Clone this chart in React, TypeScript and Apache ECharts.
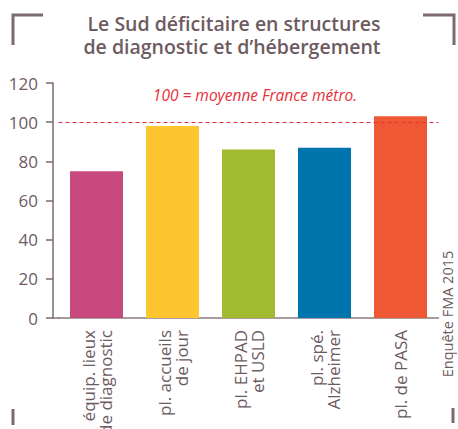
import React, { useEffect, useRef } from "react";
import * as echarts from "echarts";

const categories = [
  "équip. lieux\nde diagnostic",
  "pl. accueils\nde jour",
  "pl. EHPAD\net USLD",
  "pl. spé.\nAlzheimer",
  "pl. de PASA",
];
const values = [75, 98, 86, 87, 103];
const barColors = ["#c8497d", "#fdc52f", "#a1ba2f", "#0074ad", "#ef5835"];
const referenceValue = 100;
const titleLines = ["Le Sud déficitaire en structures", "de diagnostic et d’hébergement"];
const referenceNote = "100 = moyenne France métro.";
const sourceNote = "Enquête FMA 2015";

const TEXT = "#6d5b61";
const LINE = "#7b6a70";
const FONT = "'Open Sans', 'Noto Sans', sans-serif";

const titleStyle = {
  color: TEXT,
  fontFamily: FONT,
  fontSize: 19.5,
  fontWeight: 600,
  lineHeight: 22,
};

export default function App() {
  const ref = useRef<HTMLDivElement>(null);
  useEffect(() => {
    if (!ref.current) return;
    const chart = echarts.init(ref.current, null, { renderer: "svg" });
    chart.setOption({
      animation: false,
      backgroundColor: "#ffffff",
      title: [
        { text: titleLines[0], left: 234, textAlign: "center", top: 12, padding: 0, textStyle: titleStyle },
        { text: titleLines[1], left: 232, textAlign: "center", top: 35, padding: 0, textStyle: titleStyle },
      ],
      grid: { left: 58.5, right: 19.5, top: 83, bottom: 111, outerBoundsMode: "none", containLabel: false },
      xAxis: {
        type: "category",
        data: categories,
        axisLine: { show: true, lineStyle: { color: "#8a7c80", width: 1.5 } },
        axisTick: { show: false },
        axisLabel: {
          rotate: 90,
          margin: 12,
          color: TEXT,
          fontFamily: FONT,
          fontSize: 17,
          lineHeight: 17,
          interval: 0,
        },
      },
      yAxis: {
        type: "value",
        min: 0,
        max: 120,
        interval: 20,
        offset: 5.5,
        axisLine: { show: true, lineStyle: { color: LINE, width: 1.5 } },
        axisTick: { show: true, length: 7, lineStyle: { color: LINE, width: 1.5 } },
        splitLine: { show: false },
        axisLabel: {
          margin: 15,
          color: TEXT,
          fontFamily: FONT,
          fontSize: 17,
        },
      },
      series: [
        {
          type: "bar",
          barWidth: 53,
          data: values.map((v, i) => ({ value: v, itemStyle: { color: barColors[i] } })),
          markLine: {
            silent: true,
            symbol: "none",
            label: { show: false },
            lineStyle: { color: "#e8303a", type: [4, 3], width: 1 },
            data: [{ yAxis: referenceValue }],
          },
        },
      ],
      graphic: [
        {
          type: "line",
          shape: { x1: 52, y1: 318, x2: 60, y2: 318 },
          style: { stroke: "#8a7c80", lineWidth: 1.5 },
        },
        {
          type: "text",
          x: 255,
          y: 95,
          style: {
            text: referenceNote,
            fill: "#e8303a",
            font: "italic 15.5px 'Open Sans', sans-serif",
            textAlign: "center",
            textVerticalAlign: "middle",
          },
        },
        {
          type: "text",
          x: 447,
          y: 314,
          rotation: Math.PI / 2,
          style: {
            text: sourceNote,
            fill: TEXT,
            font: "14.5px 'Open Sans', sans-serif",
            textAlign: "center",
            textVerticalAlign: "middle",
          },
        },
        {
          type: "polyline",
          shape: { points: [[13, 45], [13, 15], [43, 15]] },
          style: { stroke: LINE, lineWidth: 3, fill: "none" },
        },
        {
          type: "polyline",
          shape: { points: [[423, 15], [454, 15], [454, 45]] },
          style: { stroke: LINE, lineWidth: 3, fill: "none" },
        },
        {
          type: "line",
          shape: { x1: 13, y1: 409, x2: 13, y2: 425 },
          style: { stroke: LINE, lineWidth: 3 },
        },
        {
          type: "line",
          shape: { x1: 453, y1: 408, x2: 453, y2: 423 },
          style: { stroke: LINE, lineWidth: 3 },
        },
      ],
    });
    return () => chart.dispose();
  }, []);
  return <div ref={ref} style={{ width: 458, height: 429, position: "absolute", left: 0, top: 0 }} />;
}
